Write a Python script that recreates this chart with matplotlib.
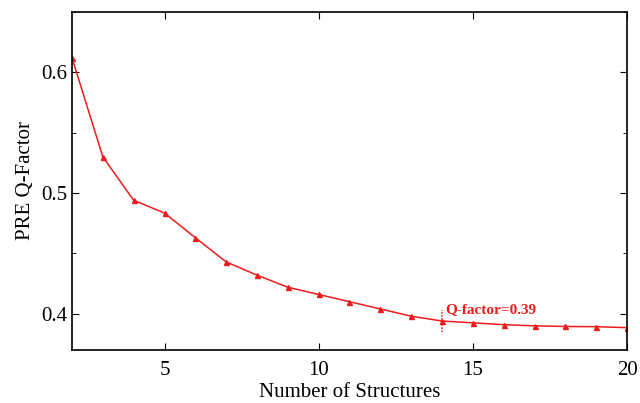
import matplotlib
matplotlib.use('Agg')
import matplotlib.pyplot as plt
from matplotlib.ticker import MultipleLocator

plt.rcParams['font.family'] = ['Liberation Serif', 'DejaVu Serif']

n_structures = list(range(2, 21))
q_factor = [0.612, 0.530, 0.494, 0.4835, 0.463, 0.443, 0.432, 0.422, 0.416,
            0.410, 0.404, 0.398, 0.394, 0.3925, 0.391, 0.390, 0.3895, 0.3893, 0.3885]
mark_x = 14
mark_label = 'Q-factor=0.39'

fig = plt.figure(figsize=(6.4, 4.03), dpi=100)
ax = fig.add_axes([72/640, 1-350/403, 555/640, 338/403])

ax.plot(n_structures, q_factor, color='#ee1c1c', lw=1.1, marker='^', ms=3.6)
ax.set_xlim(2, 20)
ax.set_ylim(0.37, 0.65)
ax.xaxis.set_major_locator(MultipleLocator(5))
ax.yaxis.set_major_locator(MultipleLocator(0.1))
ax.yaxis.set_minor_locator(MultipleLocator(0.05))
ax.tick_params(which='both', direction='in', top=True, right=True, labelsize=15)
ax.tick_params(which='major', length=5)
ax.tick_params(which='minor', length=3)
ax.tick_params(axis='x', pad=8)
for s in ax.spines.values():
    s.set_linewidth(1.2)

# dotted marker + label at the chosen point
my = q_factor[n_structures.index(mark_x)]
ax.vlines(mark_x, my - 0.009, my + 0.009, colors='#ee1c1c',
          linestyles=(0, (1, 1)), lw=1.1)
ax.text(mark_x + 0.12, my + 0.004, mark_label, color='#ee1c1c', fontsize=11,
        fontweight='bold', va='bottom')

ax.set_xlabel('Number of Structures', fontsize=15, labelpad=2)
ax.set_ylabel('PRE Q-Factor', fontsize=15)

fig.savefig('out.png', dpi=100)
